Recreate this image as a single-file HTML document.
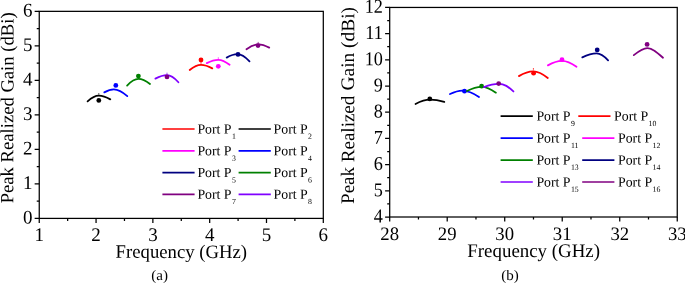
<!DOCTYPE html>
<html><head><meta charset="utf-8"><title>Peak Realized Gain</title>
<style>html,body{margin:0;padding:0;background:#fff}body{width:685px;height:283px;overflow:hidden}svg{display:block;will-change:transform}text{font-family:"Liberation Serif",serif;fill:#000;text-rendering:geometricPrecision}</style></head><body>
<svg width="685" height="283" viewBox="0 0 685 283">
<rect width="685" height="283" fill="#fff"/>
<rect x="39.25" y="11.35" width="284.05" height="207.05" fill="none" stroke="#000" stroke-width="1.25"/>
<path d="M39.25 218.40v4.6M67.66 218.40v2.5M96.06 218.40v4.6M124.47 218.40v2.5M152.87 218.40v4.6M181.28 218.40v2.5M209.68 218.40v4.6M238.09 218.40v2.5M266.49 218.40v4.6M294.89 218.40v2.5M323.30 218.40v4.6M39.25 218.40h-4.6M39.25 201.15h-2.5M39.25 183.89h-4.6M39.25 166.64h-2.5M39.25 149.38h-4.6M39.25 132.13h-2.5M39.25 114.88h-4.6M39.25 97.62h-2.5M39.25 80.37h-4.6M39.25 63.11h-2.5M39.25 45.86h-4.6M39.25 28.60h-2.5M39.25 11.35h-4.6" stroke="#000" stroke-width="1.25" fill="none"/>
<text transform="translate(39.25 240.90) rotate(0.05) scale(0.985 1)" text-anchor="middle" font-size="19.3">1</text>
<text transform="translate(96.06 240.90) rotate(0.05) scale(0.985 1)" text-anchor="middle" font-size="19.3">2</text>
<text transform="translate(152.87 240.90) rotate(0.05) scale(0.985 1)" text-anchor="middle" font-size="19.3">3</text>
<text transform="translate(209.68 240.90) rotate(0.05) scale(0.985 1)" text-anchor="middle" font-size="19.3">4</text>
<text transform="translate(266.49 240.90) rotate(0.05) scale(0.985 1)" text-anchor="middle" font-size="19.3">5</text>
<text transform="translate(323.30 240.90) rotate(0.05) scale(0.985 1)" text-anchor="middle" font-size="19.3">6</text>
<text transform="translate(32.50 223.60) rotate(0.05) scale(0.985 1)" text-anchor="end" font-size="19.3">0</text>
<text transform="translate(32.50 189.09) rotate(0.05) scale(0.985 1)" text-anchor="end" font-size="19.3">1</text>
<text transform="translate(32.50 154.58) rotate(0.05) scale(0.985 1)" text-anchor="end" font-size="19.3">2</text>
<text transform="translate(32.50 120.08) rotate(0.05) scale(0.985 1)" text-anchor="end" font-size="19.3">3</text>
<text transform="translate(32.50 85.57) rotate(0.05) scale(0.985 1)" text-anchor="end" font-size="19.3">4</text>
<text transform="translate(32.50 51.06) rotate(0.05) scale(0.985 1)" text-anchor="end" font-size="19.3">5</text>
<text transform="translate(32.50 16.55) rotate(0.05) scale(0.985 1)" text-anchor="end" font-size="19.3">6</text>
<path d="M87.60 101.35C91.52 97.78 94.32 95.60 98.80 95.60C103.40 95.60 106.27 97.02 110.30 99.35" stroke="#000000" stroke-width="1.8" fill="none" stroke-linecap="round"/>
<path d="M98.80 94.70v-1.6" stroke="#000000" stroke-width="0.9" opacity="0.8"/>
<circle cx="98.80" cy="100.40" r="2.4" fill="#000000"/>
<path d="M104.30 92.35C107.62 90.46 110.00 89.30 113.80 89.30C119.20 89.30 122.58 91.90 127.30 96.15" stroke="#0000ff" stroke-width="1.8" fill="none" stroke-linecap="round"/>
<circle cx="115.80" cy="85.40" r="2.4" fill="#0000ff"/>
<path d="M127.10 85.55C131.06 81.43 133.88 78.90 138.40 78.90C143.04 78.90 145.94 80.82 150.00 83.95" stroke="#008000" stroke-width="1.8" fill="none" stroke-linecap="round"/>
<circle cx="138.40" cy="76.10" r="2.4" fill="#008000"/>
<path d="M155.40 78.65C159.46 76.51 162.36 75.20 167.00 75.20C171.56 75.20 174.41 77.88 178.40 82.25" stroke="#8000ff" stroke-width="1.8" fill="none" stroke-linecap="round"/>
<path d="M167.00 74.30v-1.6" stroke="#8000ff" stroke-width="0.9" opacity="0.8"/>
<circle cx="167.00" cy="76.90" r="2.4" fill="#800080"/>
<path d="M189.70 70.05C193.66 66.80 196.48 64.80 201.00 64.80C205.52 64.80 208.34 66.15 212.30 68.35" stroke="#ff0000" stroke-width="1.8" fill="none" stroke-linecap="round"/>
<path d="M201.00 63.90v-1.6" stroke="#ff0000" stroke-width="0.9" opacity="0.8"/>
<circle cx="201.00" cy="60.00" r="2.4" fill="#ff0000"/>
<path d="M206.80 63.15C210.83 61.07 213.70 59.80 218.30 59.80C222.82 59.80 225.65 61.68 229.60 64.75" stroke="#ff00ff" stroke-width="1.8" fill="none" stroke-linecap="round"/>
<path d="M218.30 58.90v-1.6" stroke="#ff00ff" stroke-width="0.9" opacity="0.8"/>
<circle cx="218.30" cy="66.30" r="2.4" fill="#ff00ff"/>
<path d="M226.70 57.65C230.45 55.51 233.12 54.20 237.40 54.20C242.24 54.20 245.27 56.92 249.50 61.35" stroke="#000080" stroke-width="1.8" fill="none" stroke-linecap="round"/>
<circle cx="238.00" cy="54.40" r="2.4" fill="#000080"/>
<path d="M246.50 49.25C250.59 46.24 253.52 44.40 258.20 44.40C262.60 44.40 265.35 45.63 269.20 47.65" stroke="#800080" stroke-width="1.8" fill="none" stroke-linecap="round"/>
<path d="M258.20 43.50v-1.6" stroke="#800080" stroke-width="0.9" opacity="0.8"/>
<circle cx="258.00" cy="45.60" r="2.4" fill="#800080"/>
<rect x="389.70" y="7.45" width="287.55" height="209.55" fill="none" stroke="#000" stroke-width="1.25"/>
<path d="M389.70 217.00v4.6M418.45 217.00v2.5M447.21 217.00v4.6M475.97 217.00v2.5M504.72 217.00v4.6M533.48 217.00v2.5M562.23 217.00v4.6M590.99 217.00v2.5M619.74 217.00v4.6M648.50 217.00v2.5M677.25 217.00v4.6M389.70 217.00h-4.6M389.70 203.90h-2.5M389.70 190.81h-4.6M389.70 177.71h-2.5M389.70 164.61h-4.6M389.70 151.52h-2.5M389.70 138.42h-4.6M389.70 125.32h-2.5M389.70 112.22h-4.6M389.70 99.13h-2.5M389.70 86.03h-4.6M389.70 72.93h-2.5M389.70 59.84h-4.6M389.70 46.74h-2.5M389.70 33.64h-4.6M389.70 20.55h-2.5M389.70 7.45h-4.6" stroke="#000" stroke-width="1.25" fill="none"/>
<text transform="translate(389.70 239.95) rotate(0.05) scale(0.985 1)" text-anchor="middle" font-size="19.0">28</text>
<text transform="translate(447.21 239.95) rotate(0.05) scale(0.985 1)" text-anchor="middle" font-size="19.0">29</text>
<text transform="translate(504.72 239.95) rotate(0.05) scale(0.985 1)" text-anchor="middle" font-size="19.0">30</text>
<text transform="translate(562.23 239.95) rotate(0.05) scale(0.985 1)" text-anchor="middle" font-size="19.0">31</text>
<text transform="translate(619.74 239.95) rotate(0.05) scale(0.985 1)" text-anchor="middle" font-size="19.0">32</text>
<text transform="translate(677.25 239.95) rotate(0.05) scale(0.985 1)" text-anchor="middle" font-size="19.0">33</text>
<text transform="translate(382.90 222.40) rotate(0.05) scale(0.93 1)" text-anchor="end" font-size="19.6">4</text>
<text transform="translate(382.90 196.21) rotate(0.05) scale(0.93 1)" text-anchor="end" font-size="19.6">5</text>
<text transform="translate(382.90 170.01) rotate(0.05) scale(0.93 1)" text-anchor="end" font-size="19.6">6</text>
<text transform="translate(382.90 143.82) rotate(0.05) scale(0.93 1)" text-anchor="end" font-size="19.6">7</text>
<text transform="translate(382.90 117.62) rotate(0.05) scale(0.93 1)" text-anchor="end" font-size="19.6">8</text>
<text transform="translate(382.90 91.43) rotate(0.05) scale(0.93 1)" text-anchor="end" font-size="19.6">9</text>
<text transform="translate(382.90 65.24) rotate(0.05) scale(0.93 1)" text-anchor="end" font-size="19.6">10</text>
<text transform="translate(382.90 39.04) rotate(0.05) scale(0.93 1)" text-anchor="end" font-size="19.6">11</text>
<text transform="translate(382.90 12.85) rotate(0.05) scale(0.93 1)" text-anchor="end" font-size="19.6">12</text>
<path d="M415.50 103.95C420.64 101.31 424.32 99.70 430.20 99.70C435.84 99.70 439.37 100.55 444.30 101.95" stroke="#000000" stroke-width="1.8" fill="none" stroke-linecap="round"/>
<circle cx="429.80" cy="98.90" r="2.4" fill="#000000"/>
<path d="M450.00 94.05C454.34 91.91 457.44 90.60 462.40 90.60C469.04 90.60 473.19 93.01 479.00 96.95" stroke="#0000ff" stroke-width="1.8" fill="none" stroke-linecap="round"/>
<circle cx="464.50" cy="91.20" r="2.4" fill="#0000ff"/>
<path d="M466.90 91.05C472.05 88.41 475.72 86.80 481.60 86.80C487.32 86.80 490.90 89.02 495.90 92.65" stroke="#008000" stroke-width="1.8" fill="none" stroke-linecap="round"/>
<circle cx="481.60" cy="86.20" r="2.4" fill="#008000"/>
<path d="M484.00 87.05C489.14 85.03 492.82 83.80 498.70 83.80C504.58 83.80 508.25 86.71 513.40 91.45" stroke="#8000ff" stroke-width="1.8" fill="none" stroke-linecap="round"/>
<circle cx="498.70" cy="83.60" r="2.4" fill="#800080"/>
<path d="M518.90 76.15C523.90 73.20 527.48 71.40 533.20 71.40C539.04 71.40 542.69 73.93 547.80 78.05" stroke="#ff0000" stroke-width="1.8" fill="none" stroke-linecap="round"/>
<path d="M533.40 69.70v-1.6" stroke="#ff0000" stroke-width="0.9" opacity="0.9"/>
<circle cx="533.60" cy="73.20" r="2.4" fill="#ff0000"/>
<path d="M547.90 65.35C552.84 62.59 556.36 60.90 562.00 60.90C567.80 60.90 571.42 63.12 576.50 66.75" stroke="#ff00ff" stroke-width="1.8" fill="none" stroke-linecap="round"/>
<circle cx="562.00" cy="59.70" r="2.4" fill="#ff00ff"/>
<path d="M582.30 57.35C587.30 54.90 590.88 53.40 596.60 53.40C601.20 53.40 604.08 56.04 608.10 60.35" stroke="#000080" stroke-width="1.8" fill="none" stroke-linecap="round"/>
<circle cx="597.20" cy="49.90" r="2.4" fill="#000080"/>
<path d="M633.80 55.15C638.93 51.19 642.98 48.20 647.30 48.20C652.32 48.20 657.03 52.31 663.00 57.75" stroke="#800080" stroke-width="1.8" fill="none" stroke-linecap="round"/>
<circle cx="647.10" cy="44.40" r="2.4" fill="#800080"/>
<path d="M162.40 129.00h32.2" stroke="#ff0000" stroke-width="1.7"/>
<text transform="translate(197.40 133.40) rotate(0.05)" font-size="13.8">Port P<tspan font-size="7.8" dx="0.4" dy="5.3">1</tspan></text>
<path d="M238.60 129.00h32.2" stroke="#000000" stroke-width="1.7"/>
<text transform="translate(273.60 133.40) rotate(0.05)" font-size="13.8">Port P<tspan font-size="7.8" dx="0.4" dy="5.3">2</tspan></text>
<path d="M162.40 150.90h32.2" stroke="#ff00ff" stroke-width="1.7"/>
<text transform="translate(197.40 155.30) rotate(0.05)" font-size="13.8">Port P<tspan font-size="7.8" dx="0.4" dy="5.3">3</tspan></text>
<path d="M238.60 150.90h32.2" stroke="#0000ff" stroke-width="1.7"/>
<text transform="translate(273.60 155.30) rotate(0.05)" font-size="13.8">Port P<tspan font-size="7.8" dx="0.4" dy="5.3">4</tspan></text>
<path d="M162.40 172.70h32.2" stroke="#000080" stroke-width="1.7"/>
<text transform="translate(197.40 177.10) rotate(0.05)" font-size="13.8">Port P<tspan font-size="7.8" dx="0.4" dy="5.3">5</tspan></text>
<path d="M238.60 172.70h32.2" stroke="#008000" stroke-width="1.7"/>
<text transform="translate(273.60 177.10) rotate(0.05)" font-size="13.8">Port P<tspan font-size="7.8" dx="0.4" dy="5.3">6</tspan></text>
<path d="M162.40 194.30h32.2" stroke="#800080" stroke-width="1.7"/>
<text transform="translate(197.40 198.70) rotate(0.05)" font-size="13.8">Port P<tspan font-size="7.8" dx="0.4" dy="5.3">7</tspan></text>
<path d="M238.60 194.30h32.2" stroke="#8000ff" stroke-width="1.7"/>
<text transform="translate(273.60 198.70) rotate(0.05)" font-size="13.8">Port P<tspan font-size="7.8" dx="0.4" dy="5.3">8</tspan></text>
<path d="M500.60 116.20h32.2" stroke="#000000" stroke-width="1.7"/>
<text transform="translate(536.40 120.60) rotate(0.05)" font-size="13.8">Port P<tspan font-size="7.8" dx="0.4" dy="5.3">9</tspan></text>
<path d="M578.30 116.20h32.2" stroke="#ff0000" stroke-width="1.7"/>
<text transform="translate(614.10 120.60) rotate(0.05)" font-size="13.8">Port P<tspan font-size="7.8" dx="0.4" dy="5.3">10</tspan></text>
<path d="M500.60 138.20h32.2" stroke="#0000ff" stroke-width="1.7"/>
<text transform="translate(536.40 142.60) rotate(0.05)" font-size="13.8">Port P<tspan font-size="7.8" dx="0.4" dy="5.3">11</tspan></text>
<path d="M582.20 138.20h32.2" stroke="#ff00ff" stroke-width="1.7"/>
<text transform="translate(618.00 142.60) rotate(0.05)" font-size="13.8">Port P<tspan font-size="7.8" dx="0.4" dy="5.3">12</tspan></text>
<path d="M500.60 160.10h32.2" stroke="#008000" stroke-width="1.7"/>
<text transform="translate(536.40 164.50) rotate(0.05)" font-size="13.8">Port P<tspan font-size="7.8" dx="0.4" dy="5.3">13</tspan></text>
<path d="M582.20 160.10h32.2" stroke="#000080" stroke-width="1.7"/>
<text transform="translate(618.00 164.50) rotate(0.05)" font-size="13.8">Port P<tspan font-size="7.8" dx="0.4" dy="5.3">14</tspan></text>
<path d="M500.60 182.00h32.2" stroke="#8000ff" stroke-width="1.7"/>
<text transform="translate(536.40 186.40) rotate(0.05)" font-size="13.8">Port P<tspan font-size="7.8" dx="0.4" dy="5.3">15</tspan></text>
<path d="M582.20 182.00h32.2" stroke="#800080" stroke-width="1.7"/>
<text transform="translate(618.00 186.40) rotate(0.05)" font-size="13.8">Port P<tspan font-size="7.8" dx="0.4" dy="5.3">16</tspan></text>
<text transform="translate(181.30 257.90) rotate(0.05)" text-anchor="middle" font-size="19.0" textLength="131.4" lengthAdjust="spacingAndGlyphs">Frequency (GHz)</text>
<text transform="translate(533.65 257.00) rotate(0.05)" text-anchor="middle" font-size="19.3" textLength="132.7" lengthAdjust="spacingAndGlyphs">Frequency (GHz)</text>
<text transform="translate(13.30 203.30) rotate(-89.95)" font-size="18.6" textLength="190.9" lengthAdjust="spacingAndGlyphs">Peak Realized Gain (dBi)</text>
<text transform="translate(354.10 203.90) rotate(-89.95)" font-size="19.1" textLength="108.2" lengthAdjust="spacingAndGlyphs">Peak Realized</text>
<text transform="translate(354.10 90.45) rotate(-89.95)" font-size="19.1" textLength="83.5" lengthAdjust="spacingAndGlyphs">Gain (dBi)</text>
<text transform="translate(159.55 280.10) rotate(0.05) scale(1.03 1)" text-anchor="middle" font-size="14.6">(a)</text>
<text transform="translate(509.90 280.10) rotate(0.05) scale(1.03 1)" text-anchor="middle" font-size="14.6">(b)</text>
</svg></body></html>
